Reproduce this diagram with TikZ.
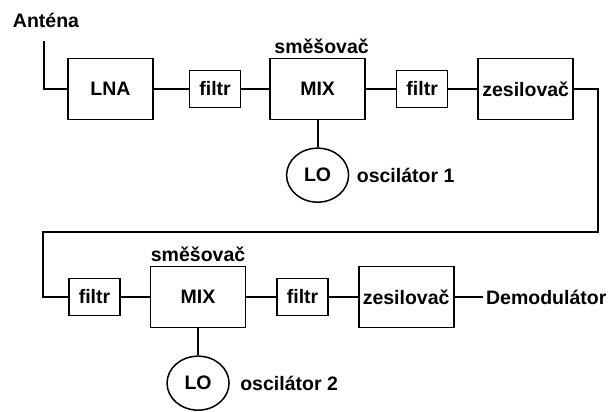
\documentclass[tikz,border=0pt]{standalone}
\usepackage{fontspec}
\setmainfont{Liberation Sans}
\usetikzlibrary{positioning,shapes.geometric}
\tikzset{
lbl/.style={font=\fontsize{19.5pt}{23pt}\selectfont\bfseries},
block/.style={draw,line width=1.8pt,minimum width=95pt,minimum height=61pt,inner sep=2pt,align=center,lbl},
filter/.style={draw,line width=1.3pt,minimum width=51pt,minimum height=37pt,inner sep=2pt,align=center,lbl},
osc/.style={draw,ellipse,line width=1.5pt,minimum width=62pt,minimum height=54pt,inner sep=1pt,lbl},
wire/.style={line width=1.8pt}
}
\begin{document}
\begin{tikzpicture}[x=1pt,y=-1pt,node distance=29pt]
\useasboundingbox (0,0) rectangle (608,412);
\node[lbl](ant) at (46,20){Anténa};
\coordinate(antin) at (44,41);
\node[block,minimum width=85pt](lna) at (110.5,89){LNA};
\node[filter,right=35pt of lna](fil1){filtr};
\node[block,right=28pt of fil1](mix1){MIX};
\node[filter,right=30pt of mix1](fil2){filtr};
\node[block,right=29pt of fil2](zes1){zesilovač};
\node[lbl,above=0pt of mix1,xshift=4pt](sm1){směšovač};
\node[osc,below=27pt of mix1](lo1){LO};
\node[lbl,right=4pt of lo1](osc1){oscilátor 1};
\coordinate(fbr) at (598,232);
\coordinate(fbl) at (43,232);
\node[filter](fil3) at (94.5,297){filtr};
\node[block,right=29pt of fil3](mix2){MIX};
\node[filter,right=30pt of mix2](fil4){filtr};
\node[block,right=29pt of fil4](zes2){zesilovač};
\node[lbl,right=28pt of zes2](demod){Demodulátor};
\node[lbl,above=0pt of mix2](sm2){směšovač};
\node[osc,below=27pt of mix2](lo2){LO};
\node[lbl,right=7pt of lo2](osc2){oscilátor 2};
\draw[wire](antin)|-(lna.west);\draw[wire](lna)--(fil1);\draw[wire](fil1)--(mix1);\draw[wire](mix1)--(fil2);\draw[wire](fil2)--(zes1);
\draw[wire](mix1)--(lo1);
\draw[wire](zes1.east)-|(fbr)--(fbl)|-(fil3.west);
\draw[wire](fil3)--(mix2);\draw[wire](mix2)--(fil4);\draw[wire](fil4)--(zes2);\draw[wire](zes2)--(demod);
\draw[wire](mix2)--(lo2);
\end{tikzpicture}
\end{document}
